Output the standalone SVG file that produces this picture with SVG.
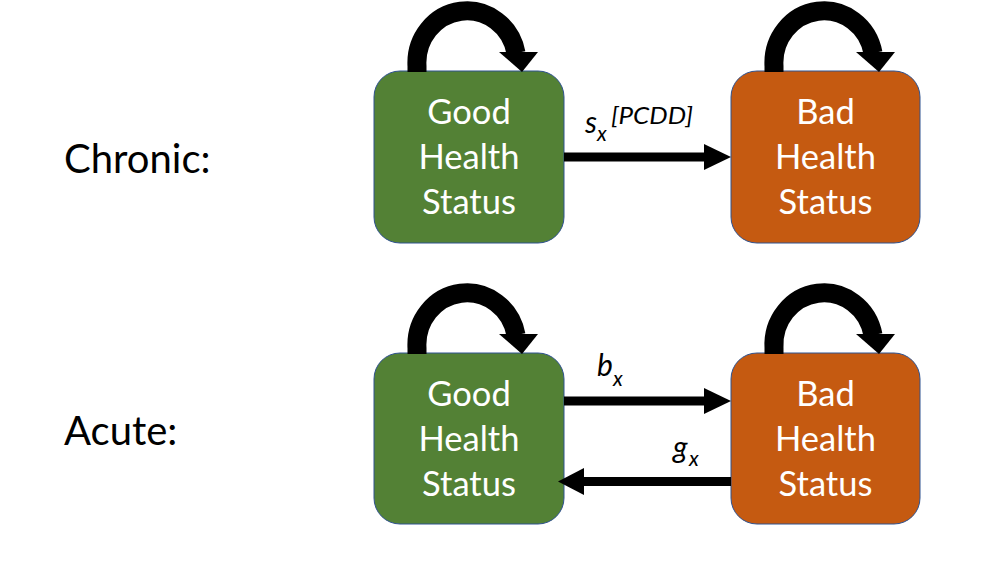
<svg xmlns="http://www.w3.org/2000/svg" xmlns:xlink="http://www.w3.org/1999/xlink" width="1000" height="563" viewBox="0 0 1000 563">
<style>
.good{fill:#538135;stroke:#2F528F;stroke-width:1}
.bad{fill:#C55A11;stroke:#2F528F;stroke-width:1}
.nt{font-family:Lato,"Liberation Sans",sans-serif;font-size:34.5px;fill:#fff;text-anchor:middle}
.row{font-family:Lato,"Liberation Sans",sans-serif;font-size:40px;fill:#000}
.lbl{font-family:Lato,"Liberation Sans",sans-serif;font-style:italic;fill:#000}
.main{font-size:30px}
.sub{font-size:21px}
.shaft{stroke:#000;stroke-width:9;fill:none}
.loop{stroke:#000;stroke-width:19;fill:none}
</style>
<defs>
<g id="selfloop">
<path class="loop" d="M417,72 V66 A50,52 0 0 1 516,53"/>
<polygon points="499,52 538,52 522,72" fill="#000"/>
</g>
</defs>
<rect width="1000" height="563" fill="#fff"/>
<text class="row" x="64" y="173">Chronic:</text>
<text class="row" x="64" y="445">Acute:</text>
<g id="chronic-good">
<rect class="good" x="374" y="71" width="190" height="172" rx="26"/>
<text class="nt" x="469" y="124">Good</text>
<text class="nt" x="469" y="169">Health</text>
<text class="nt" x="469" y="214">Status</text>
</g>
<g id="chronic-bad">
<rect class="bad" x="731" y="71" width="189" height="172" rx="26"/>
<text class="nt" x="825.5" y="124">Bad</text>
<text class="nt" x="825.5" y="169">Health</text>
<text class="nt" x="825.5" y="214">Status</text>
</g>
<g id="acute-good">
<rect class="good" x="374" y="353" width="190" height="171" rx="26"/>
<text class="nt" x="469" y="406">Good</text>
<text class="nt" x="469" y="451">Health</text>
<text class="nt" x="469" y="496">Status</text>
</g>
<g id="acute-bad">
<rect class="bad" x="731" y="353" width="189" height="171" rx="26"/>
<text class="nt" x="825.5" y="406">Bad</text>
<text class="nt" x="825.5" y="451">Health</text>
<text class="nt" x="825.5" y="496">Status</text>
</g>
<g id="connectors">
<use xlink:href="#selfloop"/>
<use xlink:href="#selfloop" transform="translate(357,0)"/>
<use xlink:href="#selfloop" transform="translate(0,282)"/>
<use xlink:href="#selfloop" transform="translate(357,282)"/>
<line class="shaft" x1="564" y1="157" x2="706" y2="157"/>
<polygon points="704,144 731,157 704,170" fill="#000"/>
<line class="shaft" x1="564" y1="401" x2="706" y2="401"/>
<polygon points="704,388 731,401 704,414" fill="#000"/>
<line class="shaft" x1="731" y1="481.5" x2="582" y2="481.5"/>
<polygon points="584,468 558,481.5 584,495" fill="#000"/>
<text class="lbl main" x="585" y="133">s</text>
<text class="lbl sub" x="597" y="141">x</text>
<text class="lbl" x="611" y="124" font-size="23" textLength="82" lengthAdjust="spacingAndGlyphs">[PCDD]</text>
<text class="lbl main" x="597" y="376">b</text>
<text class="lbl sub" x="613" y="386">x</text>
<text class="lbl main" x="673" y="458">g</text>
<text class="lbl sub" x="689" y="466">x</text>
</g>
</svg>
